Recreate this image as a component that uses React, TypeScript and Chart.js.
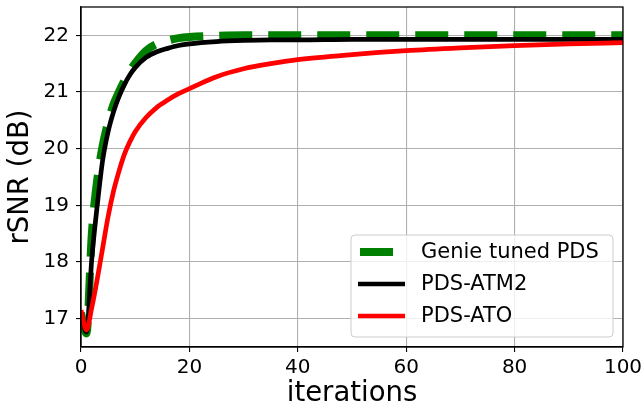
import { useEffect, useRef } from "react";
import { Chart, registerables } from "chart.js";

Chart.register(...registerables);

const iterations = [0, 1, 2, 3, 4, 5, 6, 7, 8, 9, 10, 12, 14, 16, 18, 20, 25, 30, 35, 40, 50, 60, 70, 80, 90, 100];
const genieTuned = [17.1, 16.74, 18.5, 19.45, 20.05, 20.47, 20.78, 21.0, 21.2, 21.37, 21.51, 21.73, 21.85, 21.91, 21.95, 21.97, 21.99, 22.0, 22.0, 22.0, 22.0, 22.0, 22.0, 22.0, 22.0, 22.0];
const pdsAtm2 = [17.1, 16.76, 18.07, 19.0, 19.8, 20.3, 20.65, 20.92, 21.13, 21.3, 21.43, 21.61, 21.71, 21.77, 21.82, 21.85, 21.89, 21.91, 21.92, 21.92, 21.93, 21.93, 21.93, 21.93, 21.93, 21.93];
const pdsAto = [17.15, 16.8, 17.2, 17.7, 18.25, 18.8, 19.25, 19.6, 19.9, 20.12, 20.3, 20.55, 20.73, 20.86, 20.97, 21.06, 21.27, 21.41, 21.5, 21.57, 21.66, 21.73, 21.78, 21.82, 21.85, 21.87];

const seriesLabels = ["Genie tuned PDS", "PDS-ATM2", "PDS-ATO"];
const xTicks = [0, 20, 40, 60, 80, 100];
const yTicks = [17, 18, 19, 20, 21, 22];

const FONT = "'DejaVu Sans', sans-serif";

const framePlugin = {
  id: "frame",
  afterDatasetsDraw(chart: any) {
    const { ctx, chartArea: a } = chart;
    ctx.save();
    ctx.strokeStyle = "#000";
    ctx.lineWidth = 1.25;
    ctx.strokeRect(a.left, a.top, a.right - a.left, a.bottom - a.top);
    ctx.restore();
  },
};

const legendPlugin = {
  id: "mplLegend",
  afterDraw(chart: any) {
    const { ctx } = chart;
    const box = { x: 351, y: 235, w: 262, h: 102 };
    ctx.save();
    ctx.beginPath();
    const r = 4;
    ctx.moveTo(box.x + r, box.y);
    ctx.arcTo(box.x + box.w, box.y, box.x + box.w, box.y + box.h, r);
    ctx.arcTo(box.x + box.w, box.y + box.h, box.x, box.y + box.h, r);
    ctx.arcTo(box.x, box.y + box.h, box.x, box.y, r);
    ctx.arcTo(box.x, box.y, box.x + box.w, box.y, r);
    ctx.closePath();
    ctx.fillStyle = "rgba(255,255,255,0.8)";
    ctx.fill();
    ctx.strokeStyle = "#cccccc";
    ctx.lineWidth = 1;
    ctx.stroke();

    const rows = [252, 284, 316];
    chart.data.datasets.forEach((ds: any, i: number) => {
      const y = rows[i];
      ctx.beginPath();
      ctx.strokeStyle = ds.borderColor;
      ctx.lineWidth = ds.borderWidth;
      ctx.lineCap = "butt";
      if (ds.borderDash && ds.borderDash.length) {
        ctx.setLineDash(ds.borderDash);
        ctx.lineDashOffset = 47;
      } else {
        ctx.setLineDash([]);
        ctx.lineDashOffset = 0;
      }
      ctx.moveTo(358, y);
      ctx.lineTo(405, y);
      ctx.stroke();
      ctx.setLineDash([]);
      ctx.fillStyle = "#000";
      ctx.font = `21px ${FONT}`;
      ctx.textBaseline = "middle";
      ctx.textAlign = "left";
      ctx.fillText(ds.label, 421, y + 1);
    });
    ctx.restore();
  },
};

export default function App() {
  const ref = useRef<HTMLCanvasElement | null>(null);

  useEffect(() => {
    if (!ref.current) return;
    const mk = (vals: number[]) => iterations.map((x, i) => ({ x, y: vals[i] }));
    const chart = new Chart(ref.current, {
      type: "line",
      data: {
        datasets: [
          {
            label: seriesLabels[0],
            data: mk(genieTuned),
            borderColor: "#008000",
            borderWidth: 8,
            borderDash: [33, 16],
            pointRadius: 0,
            cubicInterpolationMode: "monotone",
            borderJoinStyle: "round",
            order: 3,
          },
          {
            label: seriesLabels[1],
            data: mk(pdsAtm2),
            borderColor: "#000000",
            borderWidth: 4.7,
            pointRadius: 0,
            cubicInterpolationMode: "monotone",
            borderJoinStyle: "round",
            order: 2,
          },
          {
            label: seriesLabels[2],
            data: mk(pdsAto),
            borderColor: "#ff0000",
            borderWidth: 4.7,
            pointRadius: 0,
            cubicInterpolationMode: "monotone",
            borderJoinStyle: "round",
            order: 1,
          },
        ],
      } as any,
      options: {
        animation: false,
        responsive: false,
        devicePixelRatio: 1,
        layout: { padding: { top: 7, right: 21, left: 0, bottom: 0 } },
        plugins: { legend: { display: false }, tooltip: { enabled: false } },
        scales: {
          x: {
            type: "linear",
            min: 0,
            max: 100,
            afterBuildTicks: (s: any) => {
              s.ticks = xTicks.map((v) => ({ value: v }));
            },
            afterFit: (s: any) => {
              s.height = 63;
              s.paddingLeft = 0;
              s.paddingRight = 0;
            },
            grid: { color: "#b0b0b0", lineWidth: 1.1, tickColor: "#000", tickLength: 5 },
            border: { color: "#000", width: 1.25 },
            ticks: { color: "#000", font: { family: FONT, size: 20 }, padding: 4, maxRotation: 0 },
            title: { display: true, text: "iterations", color: "#000", font: { family: FONT, size: 27.5 }, padding: 0 },
          },
          y: {
            type: "linear",
            min: 16.5,
            max: 22.5,
            afterBuildTicks: (s: any) => {
              s.ticks = yTicks.map((v) => ({ value: v }));
            },
            afterFit: (s: any) => {
              s.width = 81;
              s.paddingTop = 0;
              s.paddingBottom = 0;
            },
            grid: { color: "#b0b0b0", lineWidth: 1.1, tickColor: "#000", tickLength: 5 },
            border: { color: "#000", width: 1.25 },
            ticks: { color: "#000", font: { family: FONT, size: 20 }, padding: 7 },
            title: { display: true, text: "rSNR (dB)", color: "#000", font: { family: FONT, size: 27.5 }, padding: { top: 4, bottom: 0 } },
          },
        },
      } as any,
      plugins: [framePlugin, legendPlugin],
    });
    return () => chart.destroy();
  }, []);

  return (
    <div style={{ position: "fixed", left: 0, top: 0, width: 644, height: 410, background: "#fff" }}>
      <canvas ref={ref} width={644} height={410} style={{ width: 644, height: 410 }} />
    </div>
  );
}
